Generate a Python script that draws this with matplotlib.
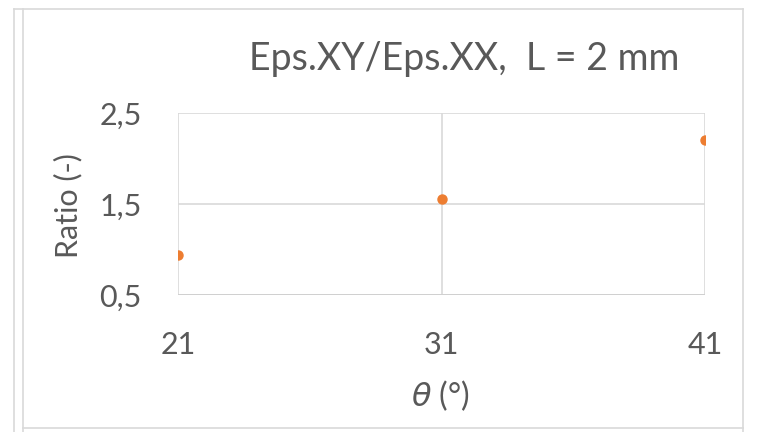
import matplotlib.pyplot as plt
from matplotlib.lines import Line2D

plt.rcParams['font.family'] = ['Lato', 'DejaVu Sans']

theta = [21, 31, 41]
ratio = [0.94, 1.55, 2.20]
yticks = [0.5, 1.5, 2.5]
ytick_labels = ['0,5', '1,5', '2,5']

W, H = 761, 432
fig = plt.figure(figsize=(W / 100, H / 100), dpi=100)
ax = fig.add_axes([178 / W, 1 - 295 / H, (705 - 178) / W, (295 - 113) / H])

ax.plot(theta, ratio, 'o', color='#ED7D31', markersize=6.5, zorder=3)

ax.set_xlim(21, 41)
ax.set_ylim(0.5, 2.5)
ax.set_xticks(theta)
ax.set_yticks(yticks)
ax.set_yticklabels(ytick_labels)
ax.grid(True, color='#d9d9d9', linewidth=1.2)
ax.tick_params(axis='y', length=0, labelsize=22, colors='#595959', pad=26)
ax.tick_params(axis='x', length=0, labelsize=22, colors='#595959', pad=26)
for s in ax.spines.values():
    s.set_visible(False)
ax.axhline(0.5, color='#d0d0d0', linewidth=1.4, zorder=2)

ax.set_xlabel(r'$\theta$ (°)', fontsize=23, color='#595959')
ax.set_ylabel('Ratio (-)', fontsize=22, color='#595959')
ax.xaxis.set_label_coords(0.497, -0.456)
ax.yaxis.set_label_coords(-0.182, 0.49)
ax.set_title('Eps.XY/Eps.XX,  L = 2 mm', fontsize=27, color='#595959',
             x=0.543, y=1.0, pad=31)

# chart frame lines
for x in (13.5, 22.5, 743):
    fig.add_artist(Line2D([x / W, x / W], [0, 1 - 9 / H], color='#d9d9d9', linewidth=1.2))
fig.add_artist(Line2D([13.5 / W, 743 / W], [1 - 9 / H, 1 - 9 / H], color='#d9d9d9', linewidth=1.2))
fig.add_artist(Line2D([22.5 / W, 743 / W], [1 - 428 / H, 1 - 428 / H], color='#d9d9d9', linewidth=1.2))

fig.savefig('out.png', dpi=100)
